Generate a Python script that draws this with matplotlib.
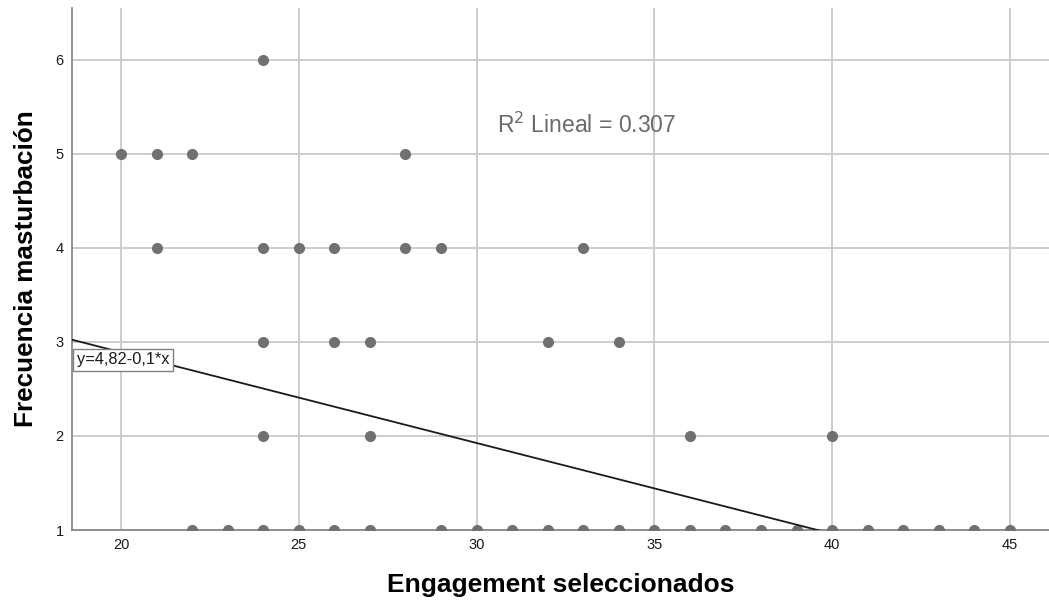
import matplotlib.pyplot as plt

plt.rcParams['font.family'] = ['Liberation Sans', 'DejaVu Sans']

# engagement score and masturbation frequency
engagement = [22, 23, 24, 25, 26, 27, 29, 30, 31, 32, 33, 34, 35, 36, 37, 38, 39,
              40, 41, 42, 43, 44, 45,
              24, 27, 36, 40,
              24, 26, 27, 32, 34,
              21, 24, 25, 26, 28, 29, 33,
              20, 21, 22, 28,
              24]
frecuencia = [1] * 23 + [2] * 4 + [3] * 5 + [4] * 7 + [5] * 4 + [6]

# fitted line shown in the chart
intercept = 4.82
slope = -0.0965
r2_text = "R$^2$ Lineal = 0.307"
eq_text = "y=4,82-0,1*x"

x_ticks = [20, 25, 30, 35, 40, 45]
y_ticks = [1, 2, 3, 4, 5, 6]

fig = plt.figure(figsize=(10.49, 6.01), dpi=100)
ax = fig.add_axes([72 / 1049, 71 / 601, 977 / 1049, 522 / 601])

xmin, xmax = 18.62, 46.1
ymin, ymax = 1.0, 6.55

# grid lines
ax.set_axisbelow(True)
ax.grid(True, color="#cccccc", linewidth=1.4)

ax.plot(engagement, frecuencia, "o", color="#707070", markersize=8,
        markeredgewidth=0, zorder=3)

ax.plot([xmin, xmax], [intercept + slope * xmin, intercept + slope * xmax],
        color="#1a1a1a", linewidth=1.3, zorder=4)

ax.set_xlim(xmin, xmax)
ax.set_ylim(ymin, ymax)
ax.set_xticks(x_ticks)
ax.set_yticks(y_ticks)
ax.tick_params(length=0, labelsize=10.5, colors="#1a1a1a", pad=6)

for side in ["top", "right"]:
    ax.spines[side].set_visible(False)
for side in ["left", "bottom"]:
    ax.spines[side].set_color("#808080")
    ax.spines[side].set_linewidth(1.2)

ax.set_xlabel("Engagement seleccionados", fontsize=19, fontweight="bold", va="center")
ax.set_ylabel("Frecuencia masturbación", fontsize=18.8, fontweight="bold", va="center")
ax.xaxis.set_label_coords(0.5, -0.106)
ax.yaxis.set_label_coords(-0.047, 0.5)

ax.text(0.435, 0.776, r2_text, transform=ax.transAxes, fontsize=16.5,
        color="#6a6a6a", va="center", ha="left")

ax.text(0.005, 0.326, eq_text, transform=ax.transAxes, fontsize=11.8,
        color="#1a1a1a", va="center", ha="left", zorder=5,
        bbox=dict(boxstyle="square,pad=0.22", facecolor="white", edgecolor="#808080"))

plt.savefig("out.png", dpi=100)
